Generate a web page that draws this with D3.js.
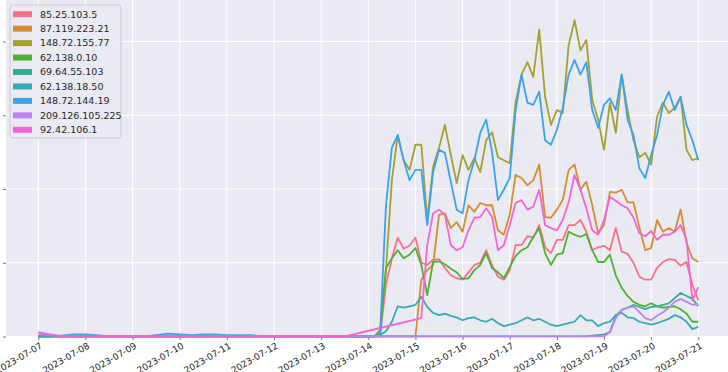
<!DOCTYPE html>
<html>
<head>
<meta charset="utf-8">
<script src="https://cdn.jsdelivr.net/npm/d3@7"></script>
<style>
  html, body { margin: 0; padding: 0; background: #ffffff; }
  svg { display: block; }
  text { font-family: "DejaVu Sans", sans-serif; fill: #262626; }
</style>
</head>
<body>
<svg id="chart" width="728" height="372"></svg>
<script>
// ---- categories ----
const seriesNames = ["85.25.103.5", "87.119.223.21", "148.72.155.77", "62.138.0.10",
  "69.64.55.103", "62.138.18.50", "148.72.144.19", "209.126.105.225", "92.42.106.1"];
const palette = ["#f77189", "#d58c32", "#a4a031", "#50b131", "#34ae91",
  "#37abb5", "#3ba3ec", "#bb83f4", "#f564d4"];
const dayTicks = ["2023-07-07","2023-07-08","2023-07-09","2023-07-10","2023-07-11",
  "2023-07-12","2023-07-13","2023-07-14","2023-07-15","2023-07-16","2023-07-17",
  "2023-07-18","2023-07-19","2023-07-20","2023-07-21"];
const yTicks = [0, 100, 200, 300, 400];

// time stamps: 6-hourly 07-07 .. 07-13 18:00, then 3-hourly 07-14 .. 07-21
const earlyTimes = d3.timeHour.range(new Date(2023, 6, 7, 0), new Date(2023, 6, 14, 0), 6);
const lateTimes = d3.timeHour.range(new Date(2023, 6, 14, 0), new Date(2023, 6, 21, 1), 3);

// ---- values: early period (28 samples) ----
const early_85_25_103_5    = [0,0,0,0,0,0,0,0,0,0,0,0,0,0,0,0,0,0,0,0,0,0,0,0,0,0,0,0];
const early_87_119_223_21  = [0,0,0,0,0,0,0,0,0,0,0,0,0,0,0,0,0,0,0,0,0,0,0,0,0,0,0,0];
const early_148_72_155_77  = [0,0,0,0,0,0,0,0,0,0,0,0,0,0,0,0,0,0,0,0,0,0,0,0,0,0,0,0];
const early_62_138_0_10    = [0,0,0,0,0,0,0,0,0,0,0,0,0,0,0,0,0,0,0,0,0,0,0,0,0,0,0,0];
const early_69_64_55_103   = [0,0,0,0,0,0,0,0,0,0,0,0,0,0,0,0,0,0,0,0,0,0,0,0,0,0,0,0];
const early_62_138_18_50   = [0,0,0,0,0,0,0,0,0,0,0,0,0,0,0,0,0,0,0,0,0,0,0,0,0,0,0,0];
const early_148_72_144_19  = [0,1,1,3,3,2,0,0,0,0,2,4,3,2,3,3,2,2,2,0,0,0,0,0,0,0,0,0];
const early_209_126_105_225= [6,3,0,0,0,0,0,0,0,0,0,0,0,0,0,0,0,0,0,0,0,0,0,0,0,0,0,0];
const early_92_42_106_1    = [4,2,0,0,0,0,0,0,0,0,0,0,0,0,0,0,0,0,0,0,0,0,0,0,0,0,0,null];

// ---- values: 07-14 .. 07-21, 3-hourly (57 samples) ----
const late_85_25_103_5 = [0,0,0,70,106,134,119,123,134, 100,97,104,105,93,83,79,77,
  87,97,100,117,97,81,77,90, 124,124,136,134,151,121,113,131, 131,151,151,158,142,117,121,123,
  117,147,115,112,100,81,77,77, 93,101,105,104,96,101,70,49];
const late_87_119_223_21 = [0,0,0,0,0,0,0,0,0, 77,90,97,165,167,147,155,142,
  178,169,181,178,178,144,138,165, 219,215,205,212,233,162,161,172, 185,226,233,199,210,178,140,151,
  196,195,199,182,182,148,117,120, 158,142,147,142,172,127,106,101];
const late_148_72_155_77 = [0,0,9,90,212,273,239,226,260, 260,158,230,256,287,246,208,246,
  226,242,223,266,277,243,239,235, 318,355,372,352,416,325,287,307, 303,395,429,388,402,321,294,253,
  317,276,355,307,266,243,249,233, 298,317,303,310,325,253,239,242];
const late_62_138_0_10 = [0,0,5,93,106,117,106,111,120, 97,56,101,102,98,92,87,78,
  79,90,97,113,93,87,79,94, 109,117,121,135,147,113,97,111, 113,142,138,135,139,117,101,101,
  111,83,66,55,47,43,41,45, 41,39,40,41,37,31,20,20];
const late_69_64_55_103 = [0,0,0,0,0,0,0,0,0, 0,0,0,0,0,0,0,0,
  0,0,0,0,0,0,0,0, 0,0,0,0,0,0,0,0, 0,0,0,0,0,1,2,3,
  6,28,36,39,43,40,37,40, 41,43,45,52,59,55,51,41];
const late_62_138_18_50 = [0,0,2,7,20,41,39,41,43, 54,40,32,29,31,28,26,22,
  25,26,22,20,24,18,14,16, 18,22,26,22,24,20,16,14, 16,18,20,29,22,22,14,18,
  20,29,32,26,25,20,18,16, 18,21,24,29,26,20,10,13];
const late_148_72_144_19 = [0,0,3,178,256,273,239,212,226, 226,151,223,253,249,210,172,167,
  212,239,276,294,250,185,199,215, 307,355,317,314,332,266,260,280, 310,355,375,355,372,307,283,314,
  323,307,355,294,273,228,215,246, 273,314,332,307,325,287,266,239];
const late_209_126_105_225 = [0,0,0,0,0,0,0,0,0, 0,0,0,0,0,0,0,0,
  0,0,0,0,0,0,0,0, 0,0,0,0,0,0,0,0, 0,0,0,0,0,0,0,0,
  6,25,36,39,41,33,25,22, 28,33,39,47,51,47,43,44];
const late_92_42_106_1 = [null,null,null,null,null,null,null,null,null, 25,124,167,172,165,124,117,121,
  144,161,162,174,162,117,124,151, 181,185,172,176,199,151,147,144, 158,182,219,199,174,144,138,158,
  189,184,178,174,161,140,136,143, 131,138,138,142,151,131,49,67];

const earlyValues = [early_85_25_103_5, early_87_119_223_21, early_148_72_155_77, early_62_138_0_10,
  early_69_64_55_103, early_62_138_18_50, early_148_72_144_19, early_209_126_105_225, early_92_42_106_1];
const lateValues = [late_85_25_103_5, late_87_119_223_21, late_148_72_155_77, late_62_138_0_10,
  late_69_64_55_103, late_62_138_18_50, late_148_72_144_19, late_209_126_105_225, late_92_42_106_1];

// ---- layout ----
const plot = { left: 6, right: 728, top: 0, bottom: 337 };
const parseDay = d3.timeParse("%Y-%m-%d");
const fmtDay = d3.timeFormat("%Y-%m-%d");

const x = d3.scaleTime()
  .domain([parseDay(dayTicks[0]), parseDay(dayTicks[dayTicks.length - 1])])
  .range([38.3, 698.3]);
const y = d3.scaleLinear().domain([0, 400]).range([336.5, 41.5]);

const svg = d3.select("#chart");

svg.append("defs").append("clipPath").attr("id", "clip")
  .append("rect").attr("x", plot.left).attr("y", plot.top)
  .attr("width", plot.right - plot.left).attr("height", plot.bottom - plot.top + 0.5);

svg.append("rect").attr("x", plot.left).attr("y", plot.top)
  .attr("width", plot.right - plot.left).attr("height", plot.bottom - plot.top)
  .attr("fill", "#eaeaf2");

// grid
const grid = svg.append("g").attr("clip-path", "url(#clip)");
grid.selectAll("line.v").data(dayTicks).join("line")
  .attr("x1", d => x(parseDay(d))).attr("x2", d => x(parseDay(d)))
  .attr("y1", plot.top).attr("y2", plot.bottom)
  .attr("stroke", "#ffffff").attr("stroke-width", 1);
grid.selectAll("line.h").data(yTicks).join("line")
  .attr("x1", plot.left).attr("x2", plot.right)
  .attr("y1", d => y(d)).attr("y2", d => y(d))
  .attr("stroke", "#ffffff").attr("stroke-width", 1);

// axes
const xAxis = d3.axisBottom(x)
  .tickValues(dayTicks.map(parseDay))
  .tickFormat(fmtDay).tickSize(3).tickSizeOuter(0);
const gx = svg.append("g").attr("transform", `translate(0,${plot.bottom})`).call(xAxis);
gx.select(".domain").remove();
gx.selectAll(".tick line").attr("stroke", "#555").attr("stroke-width", 0.8);
gx.selectAll(".tick text")
  .attr("font-size", 9)
  .attr("text-anchor", "end")
  .attr("y", 0).attr("dy", "0.72em")
  .attr("transform", "translate(1,5) rotate(-30)");

// y axis: tick marks only (labels lie outside the visible area in the reference)
const yAxis = d3.axisLeft(y).tickValues(yTicks).tickSize(3).tickSizeOuter(0).tickFormat("");
const gy = svg.append("g").attr("transform", `translate(${plot.left},0)`).call(yAxis);
gy.select(".domain").remove();
gy.selectAll(".tick line").attr("stroke", "#555").attr("stroke-width", 0.8);

// lines
const line = d3.line().x(d => x(d.t)).y(d => y(d.v));
const times = earlyTimes.concat(lateTimes);
const seriesData = seriesNames.map((name, i) => {
  const vals = earlyValues[i].concat(lateValues[i]);
  return { name, color: palette[i],
    pts: times.map((t, j) => ({ t, v: vals[j] })).filter(p => p.v !== null && p.v !== undefined) };
});
svg.append("g").attr("clip-path", "url(#clip)")
  .selectAll("path").data(seriesData).join("path")
  .attr("d", d => line(d.pts))
  .attr("fill", "none")
  .attr("stroke", d => d.color)
  .attr("stroke-width", 1.8)
  .attr("stroke-linejoin", "round");

// legend
const lg = svg.append("g");
lg.append("rect").attr("x", 10).attr("y", 5).attr("width", 111).attr("height", 133)
  .attr("rx", 3).attr("fill", "#eaeaf2").attr("fill-opacity", 0.85)
  .attr("stroke", "#cccccc").attr("stroke-width", 1);
const rows = lg.selectAll("g.row").data(seriesNames).join("g")
  .attr("transform", (d, i) => `translate(0,${14.2 + i * 14.45})`);
rows.append("rect").attr("x", 13).attr("y", -3).attr("width", 19).attr("height", 6)
  .attr("fill", (d, i) => palette[i]);
rows.append("text").attr("x", 40).attr("y", 0).attr("dy", "0.35em")
  .attr("font-size", 9.5).text(d => d);
</script>
</body>
</html>
